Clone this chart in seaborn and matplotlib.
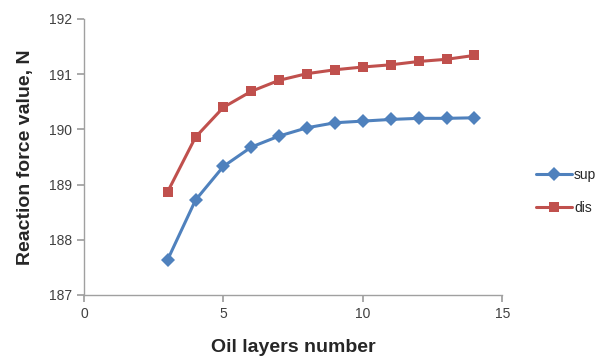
import seaborn as sns
import matplotlib.pyplot as plt
import pandas as pd

layers = [3, 4, 5, 6, 7, 8, 9, 10, 11, 12, 13, 14]
sup = [187.64, 188.72, 189.33, 189.68, 189.88, 190.03, 190.12, 190.15, 190.18, 190.20, 190.20, 190.21]
dis = [188.87, 189.86, 190.40, 190.69, 190.89, 191.01, 191.08, 191.13, 191.17, 191.23, 191.27, 191.34]

df = pd.concat([
    pd.DataFrame({"layers": layers, "force": sup, "series": "sup"}),
    pd.DataFrame({"layers": layers, "force": dis, "series": "dis"}),
])

sns.set_theme(style="white")
plt.rcParams["font.family"] = ["Liberation Sans", "DejaVu Sans"]

fig = plt.figure(figsize=(6.02, 3.58), dpi=100)
ax = fig.add_axes([0.1395, 0.176, 0.695, 0.771])

sns.lineplot(
    data=df, x="layers", y="force", hue="series", style="series",
    palette={"sup": "#4F81BD", "dis": "#C0504D"},
    markers={"sup": "D", "dis": "s"}, dashes=False,
    markersize=7, linewidth=2.2, markeredgewidth=0, ax=ax,
)

ax.set_xlim(0, 15)
ax.set_ylim(187, 192)
ax.set_xticks([0, 5, 10, 15])
ax.set_yticks([187, 188, 189, 190, 191, 192])
for s in ["top", "right"]:
    ax.spines[s].set_visible(False)
for s in ["left", "bottom"]:
    ax.spines[s].set_color("#A0A0A0")
    ax.spines[s].set_linewidth(1)
ax.tick_params(axis="both", direction="out", length=5, color="#A0A0A0",
               labelsize=10, labelcolor="#404040", left=True, bottom=True)
ax.set_xlabel("Oil layers number", fontsize=14, fontweight="bold", labelpad=13)
ax.set_ylabel("Reaction force value, N", fontsize=14, fontweight="bold", labelpad=11)

handles, labels = ax.get_legend_handles_labels()
ax.legend(handles, labels, loc="center left", bbox_to_anchor=(1.05, 0.375),
          frameon=False, fontsize=10, handlelength=2.6, handletextpad=0.15,
          labelspacing=1.4)

fig.savefig("out.png", dpi=100)
